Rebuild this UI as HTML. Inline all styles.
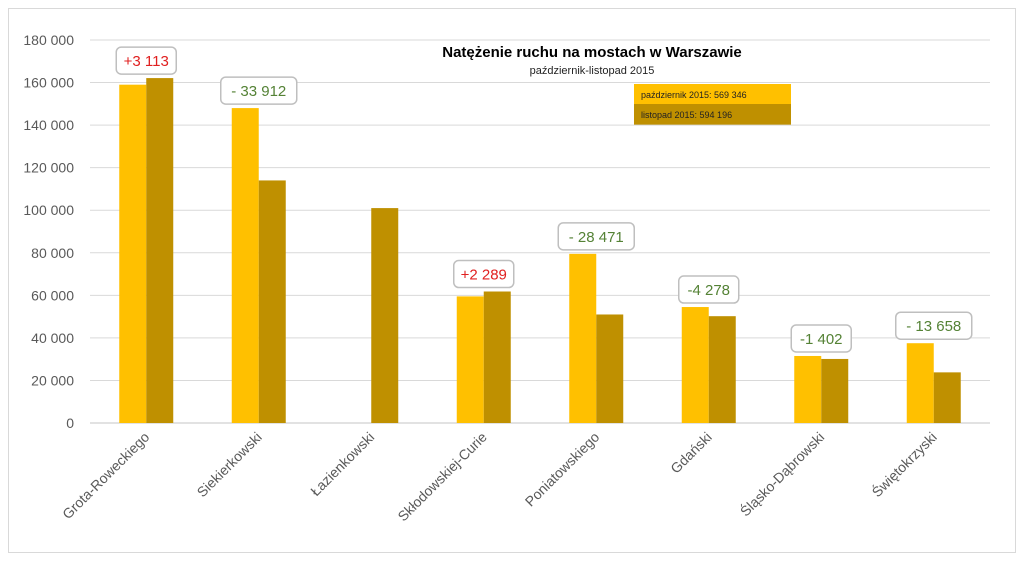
<!DOCTYPE html>
<html><head><meta charset="utf-8">
<style>
body{margin:0;background:#fff;width:1024px;height:576px;overflow:hidden;font-family:"Liberation Sans",sans-serif}
svg{display:block}
</style></head>
<body>
<svg id="chart" width="1024" height="576">
<rect x="8.5" y="8.5" width="1007" height="544" fill="#fff" stroke="#d9d9d9"/>
<text x="592" y="57" text-anchor="middle" font-size="15" font-weight="bold" fill="#000">Natężenie ruchu na mostach w Warszawie</text>
<text x="592" y="74" text-anchor="middle" font-size="11" fill="#222">październik-listopad 2015</text>
<g>
<rect x="634" y="84" width="157" height="20" fill="#ffc000"/>
<text x="641" y="98" font-size="9" fill="#222">październik 2015: 569 346</text>
<rect x="634" y="104" width="157" height="21" fill="#bf9000"/>
<text x="641" y="118" font-size="9" fill="#222">listopad 2015: 594 196</text>
</g>
<g id="grid"></g><g id="bars"></g><g id="labels"></g>
</svg>
<script>
const categories=["Grota-Roweckiego","Siekierkowski","Łazienkowski","Skłodowskiej-Curie","Poniatowskiego","Gdański","Śląsko-Dąbrowski","Świętokrzyski"];
const october=[159000,148000,0,59500,79500,54500,31500,37500];
const november=[162100,114000,101000,61800,51000,50200,30100,23800];
const diffLabels=["+3 113","- 33 912","","+2 289","- 28 471","-4 278","-1 402","- 13 658"];
const yTicks=[0,20000,40000,60000,80000,100000,120000,140000,160000,180000];
const tickLabels=["0","20 000","40 000","60 000","80 000","100 000","120 000","140 000","160 000","180 000"];
const NS="http://www.w3.org/2000/svg";
const x0=90,x1=990,yBase=423,yTop=40,yMax=180000;
const y=v=>yBase-(v/yMax)*(yBase-yTop);
const step=(x1-x0)/categories.length;
const cx=i=>x0+step*(i+0.5);
function mk(tag,attrs,parent,txt){const e=document.createElementNS(NS,tag);for(const k in attrs)e.setAttribute(k,attrs[k]);if(txt!==undefined)e.textContent=txt;parent.appendChild(e);return e;}
const grid=document.getElementById('grid'),bars=document.getElementById('bars'),labels=document.getElementById('labels');
yTicks.forEach((t,i)=>{
  const l=mk('line',{x1:x0,x2:x1,y1:y(t),y2:y(t),stroke:'#d9d9d9','stroke-width':1},grid);
  
  
  const tx=mk('text',{x:74,y:y(t)+5,'text-anchor':'end','font-size':14,fill:'#595959'},grid,tickLabels[i]);
  
  
});
const bw=27;
categories.forEach((c,i)=>{
  const xc=cx(i);
  if(october[i]>0){
    const r=mk('rect',{x:xc-bw,y:y(october[i]),width:bw,height:yBase-y(october[i]),fill:'#ffc000'},bars);
    
    
  }
  const r2=mk('rect',{x:xc,y:y(november[i]),width:bw,height:yBase-y(november[i]),fill:'#bf9000'},bars);
  
  
  const t=mk('text',{transform:`translate(${xc+4},${yBase+15}) rotate(-45)`,'text-anchor':'end','font-size':14,fill:'#595959'},labels,c);
  
  
  if(diffLabels[i]){
    const top=y(Math.max(october[i],november[i]));
    const w=diffLabels[i].length*8+12;
    const g=mk('g',{},labels);
    
    
    mk('rect',{x:xc-w/2,y:top-31,width:w,height:27,rx:5,fill:'#fff',stroke:'#bfbfbf','stroke-width':1.5},g);
    mk('text',{x:xc,y:top-12,'text-anchor':'middle','font-size':15,fill:diffLabels[i][0]=='+'?'#e02020':'#548235'},g,diffLabels[i]);
  }
});
const ax=mk('line',{x1:x0,x2:x1,y1:yBase,y2:yBase,stroke:'#d9d9d9','stroke-width':1.5},grid);


</script>
</body></html>
